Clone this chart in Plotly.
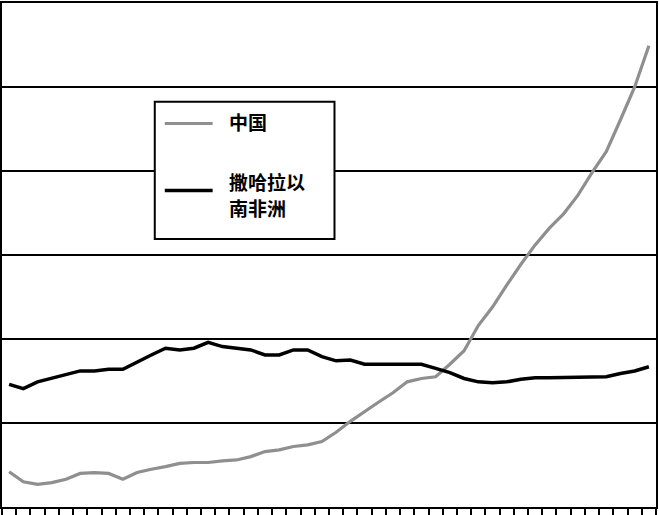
import plotly.graph_objects as go

periods = list(range(1, 47))

china = [0.42, 0.30, 0.27, 0.29, 0.33, 0.40, 0.41, 0.40, 0.33, 0.41,
         0.45, 0.48, 0.52, 0.53, 0.53, 0.55, 0.56, 0.60, 0.66, 0.68,
         0.72, 0.74, 0.78, 0.89, 1.02, 1.14, 1.25, 1.36, 1.49, 1.53,
         1.55, 1.70, 1.86, 2.16, 2.38, 2.64, 2.89, 3.12, 3.32, 3.49,
         3.71, 3.98, 4.23, 4.61, 5.00, 5.49]

ssa = [1.46, 1.41, 1.49, 1.53, 1.57, 1.62, 1.62, 1.64, 1.64, 1.73,
       1.81, 1.89, 1.87, 1.89, 1.96, 1.91, 1.89, 1.87, 1.81, 1.81,
       1.87, 1.87, 1.79, 1.74, 1.75, 1.70, 1.70, 1.70, 1.70, 1.70,
       1.65, 1.60, 1.53, 1.49, 1.48, 1.49, 1.52, 1.54, 1.54, 1.54,
       1.54, 1.55, 1.55, 1.59, 1.62, 1.67]

names = ["中国", "撒哈拉以南非洲"]
legend_lines = [["中国"], ["撒哈拉以", "南非洲"]]
colors = ["#8f8f8f", "#000000"]
widths = [3.2, 3.5]

fig = go.Figure()
for series, nm, col, w in zip([china, ssa], names, colors, widths):
    fig.add_trace(go.Scatter(x=periods, y=series, mode="lines", name=nm,
                             showlegend=False, line=dict(color=col, width=w)))

# legend drawn as a framed box (paper coordinates)
fig.add_shape(type="rect", xref="paper", yref="paper",
              x0=0.2336, x1=0.5084, y0=0.5316, y1=0.8043,
              fillcolor="white", line=dict(color="black", width=2),
              layer="above")
sym_y = [0.7609, 0.6279]
text_y = [[0.7648], [0.6462, 0.5949]]
for i in range(2):
    fig.add_shape(type="line", xref="paper", yref="paper",
                  x0=0.2489, x1=0.3221, y0=sym_y[i], y1=sym_y[i],
                  line=dict(color=colors[i], width=widths[i]), layer="above")
    for txt, ty in zip(legend_lines[i], text_y[i]):
        fig.add_annotation(xref="paper", yref="paper", x=0.3435, y=ty,
                           xanchor="left", yanchor="middle", showarrow=False,
                           text=txt,
                           font=dict(family="Noto Sans CJK SC", size=19,
                                     color="black", weight="bold"))

fig.update_layout(
    width=659, height=515,
    margin=dict(l=2, r=2, t=1, b=8),
    paper_bgcolor="white", plot_bgcolor="white",
    showlegend=False,
    xaxis=dict(
        type="category", range=[-0.5, 45.5], showticklabels=False,
        tickmode="linear", tick0=0, dtick=1,
        tickson="boundaries", ticks="outside", ticklen=7, tickwidth=1.5,
        tickcolor="black", showgrid=False, zeroline=False,
        showline=True, linecolor="black", linewidth=2, mirror=True,
    ),
    yaxis=dict(
        range=[0, 6], dtick=1, showticklabels=False, ticks="",
        showgrid=True, gridcolor="black", gridwidth=1.5, zeroline=False,
        showline=True, linecolor="black", linewidth=2, mirror=True,
    ),
)

fig.write_html("out.html", config={"displayModeBar": False},
               post_script="document.body.style.margin='0';document.body.style.padding='0';")
